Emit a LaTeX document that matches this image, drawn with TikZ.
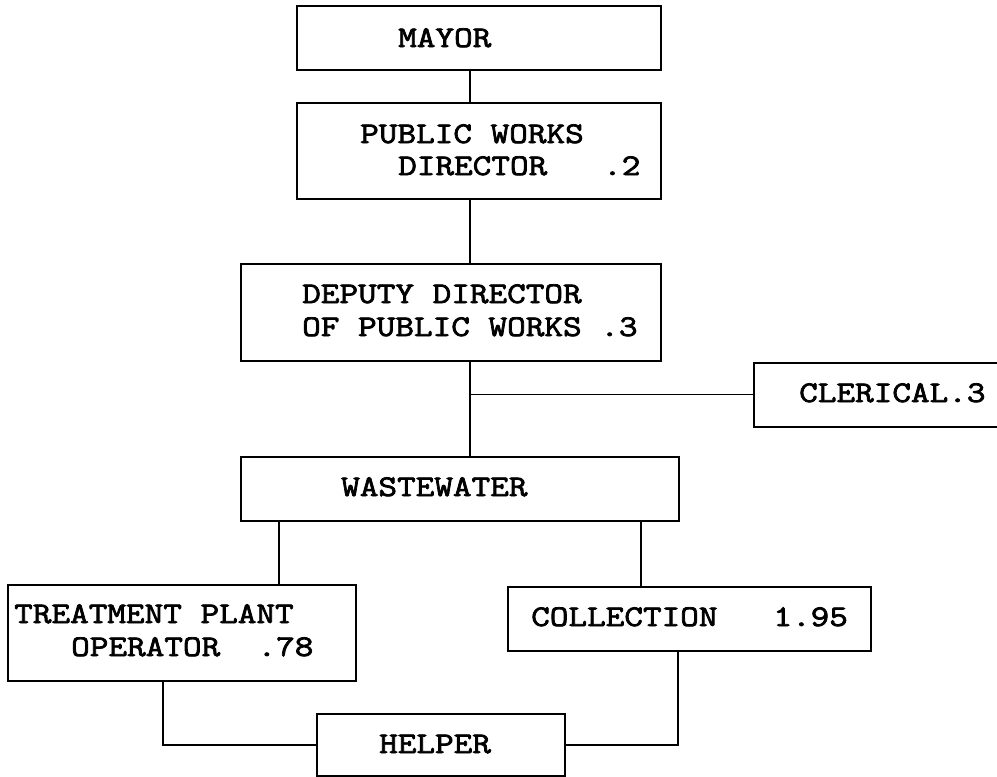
\documentclass[tikz,border=0pt]{standalone}
\usepackage{fontspec}
\newfontfamily\orgfont{Latin Modern Mono}[FakeStretch=1.206,FakeBold=2.5]
\tikzset{
  orgbox/.style={draw, rectangle, line width=2pt, inner sep=0pt},
  orgtext/.style={anchor=base west, inner sep=0pt, font=\orgfont\fontsize{30}{30}\selectfont},
  link/.style={line width=1.8pt}
}
\begin{document}
\begin{tikzpicture}[x=1pt,y=-1pt]
\useasboundingbox (0,0) rectangle (997,777);
\fill[white] (0,0) rectangle (997,777);
\clip (0,0) rectangle (997,777);
% boxes
\node[orgbox, minimum width=364pt, minimum height=64pt] (mayor) at (479,38) {};
\node[orgbox, minimum width=364pt, minimum height=96pt] (pwd) at (479,151) {};
\node[orgbox, minimum width=420pt, minimum height=97pt] (deputy) at (451,312.5) {};
\node[orgbox, minimum width=256pt, minimum height=64pt] (clerical) at (882,394.5) {};
\node[orgbox, minimum width=438pt, minimum height=64pt] (waste) at (460,489) {};
\node[orgbox, minimum width=348pt, minimum height=96pt] (treat) at (182,633) {};
\node[orgbox, minimum width=363pt, minimum height=64pt] (coll) at (689.5,619) {};
\node[orgbox, minimum width=248pt, minimum height=62pt] (helper) at (441,745) {};
% texts
\node[orgtext] (tmayor) at (398,47) {MAYOR};
\node[orgtext] (tpwd1) at (360,143) {PUBLIC WORKS};
\node[orgtext] (tpwd2) at (398,175) {DIRECTOR\hphantom{XXX}.2};
\node[orgtext] (tdep1) at (302,303) {DEPUTY DIRECTOR};
\node[orgtext] (tdep2) at (302,336) {OF PUBLIC WORKS .3};
\node[orgtext] (tcler) at (799,402) {CLERICAL.3};
\node[orgtext] (twaste) at (341,496) {WASTEWATER};
\node[orgtext] (ttreat1) at (14,623) {TREATMENT PLANT};
\node[orgtext] (ttreat2) at (71,656) {OPERATOR\hphantom{XX}.78};
\node[orgtext] (tcoll) at (531,626) {COLLECTION\hphantom{XXX}1.95};
\node[orgtext] (thelp) at (379,753) {HELPER};
% connector columns
\coordinate (spine) at (470,0);
\coordinate (tx) at (279,0);
\coordinate (cx) at (641,0);
\coordinate (hx1) at (163,0);
\coordinate (hx2) at (678,0);
% connectors
\draw[link] (spine |- mayor.south) -- (spine |- pwd.north);
\draw[link] (spine |- pwd.south) -- (spine |- deputy.north);
\draw[link] (spine |- deputy.south) -- (spine |- waste.north);
\draw[link] (spine |- clerical.west) -- (clerical.west);
\draw[link] (tx |- waste.south) -- (tx |- treat.north);
\draw[link] (cx |- waste.south) -- (cx |- coll.north);
\draw[link] (hx1 |- treat.south) |- (helper.west);
\draw[link] (hx2 |- coll.south) |- (helper.east);
\end{tikzpicture}
\end{document}
